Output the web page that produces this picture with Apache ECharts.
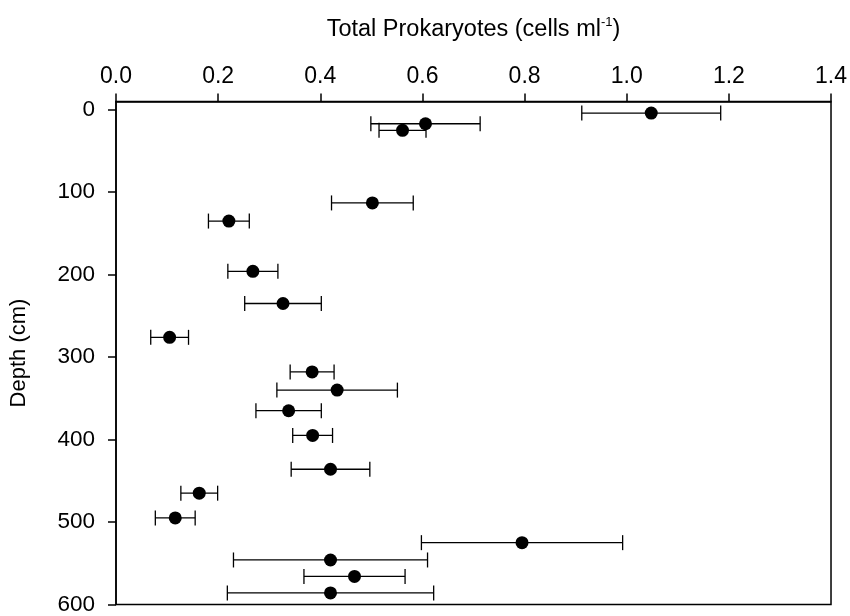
<!DOCTYPE html>
<html>
<head>
<meta charset="utf-8">
<script src="https://cdn.jsdelivr.net/npm/echarts@6/dist/echarts.min.js"></script>
<style>
  html, body { margin: 0; padding: 0; background: #fff; }
  #chart { width: 850px; height: 616px; }
</style>
</head>
<body>
<div id="chart"></div>
<script>
// depth of each sample (cm)
const depths = [4, 17, 25, 113, 135, 196, 235, 276, 318, 340, 365, 395, 436, 465, 495, 525, 546, 566, 586]
// mean total prokaryotes
const means = [1.048, 0.606, 0.561, 0.502, 0.221, 0.268, 0.327, 0.105, 0.384, 0.433, 0.338, 0.385, 0.420, 0.163, 0.116, 0.795, 0.420, 0.467, 0.420]
// +/- error
const errs = [0.136, 0.107, 0.046, 0.080, 0.040, 0.049, 0.075, 0.037, 0.043, 0.118, 0.064, 0.039, 0.077, 0.036, 0.039, 0.197, 0.190, 0.099, 0.202]

const depthTicks = [0, 100, 200, 300, 400, 500, 600]

const chart = echarts.init(document.getElementById('chart'))

const fontFamily = '"Liberation Sans", Arial, sans-serif'

const points = means.map((m, i) => [m, depths[i]])
const bars = means.map((m, i) => [m - errs[i], m + errs[i], depths[i]])

const renderErrorBar = (params, api) => {
  const y = api.value(2)
  const p1 = api.coord([api.value(0), y])
  const p2 = api.coord([api.value(1), y])
  const cap = 7.5
  const style = { stroke: '#000', lineWidth: 1.3 }
  return {
    type: 'group',
    children: [
      { type: 'line', shape: { x1: p1[0], y1: p1[1], x2: p2[0], y2: p2[1] }, style },
      { type: 'line', shape: { x1: p1[0], y1: p1[1] - cap, x2: p1[0], y2: p1[1] + cap }, style },
      { type: 'line', shape: { x1: p2[0], y1: p2[1] - cap, x2: p2[0], y2: p2[1] + cap }, style }
    ]
  }
}

const option = {
  backgroundColor: '#fff',
  animation: false,
  textStyle: { fontFamily },
  grid: {
    left: 111.7,
    right: 18,
    top: 101.5,
    bottom: 10,
    show: true,
    borderColor: '#000',
    borderWidth: 1.5,
    backgroundColor: 'transparent'
  },
  xAxis: {
    type: 'value',
    position: 'top',
    min: 0,
    max: 1.4,
    interval: 0.2,
    name: '{a|Total Prokaryotes (cells ml}{s|-1}{a|)}',
    nameLocation: 'middle',
    nameGap: 58,
    nameTextStyle: {
      rich: {
        a: { fontFamily, fontSize: 23.5, color: '#000', lineHeight: 28 },
        s: { fontFamily, fontSize: 13, color: '#000', lineHeight: 28, verticalAlign: 'top', padding: [0, 0, 11, 0] }
      }
    },
    axisLine: { onZero: false, lineStyle: { color: '#000', width: 1.5 } },
    axisTick: { inside: false, length: 8, lineStyle: { color: '#000', width: 1.5 } },
    axisLabel: {
      color: '#000',
      fontFamily,
      fontSize: 23,
      margin: 13,
      formatter: v => v.toFixed(1)
    },
    splitLine: { show: false }
  },
  yAxis: {
    type: 'value',
    inverse: true,
    min: -10,
    max: 600,
    name: 'Depth (cm)',
    nameLocation: 'middle',
    nameGap: 86,
    nameTextStyle: { color: '#000', fontFamily, fontSize: 22 },
    axisLine: { onZero: false, lineStyle: { color: '#000', width: 1.5 } },
    axisTick: { inside: false, length: 8, customValues: depthTicks, lineStyle: { color: '#000', width: 1.5 } },
    axisLabel: {
      color: '#000',
      fontFamily,
      fontSize: 22.5,
      margin: 21,
      customValues: depthTicks
    },
    splitLine: { show: false }
  },
  series: [
    {
      type: 'custom',
      renderItem: renderErrorBar,
      data: bars,
      encode: { x: [0, 1], y: 2 },
      z: 2
    },
    {
      type: 'scatter',
      data: points,
      symbol: 'circle',
      symbolSize: 13,
      itemStyle: { color: '#000', opacity: 1 },
      z: 3
    }
  ]
}

chart.setOption(option)
</script>
</body>
</html>
